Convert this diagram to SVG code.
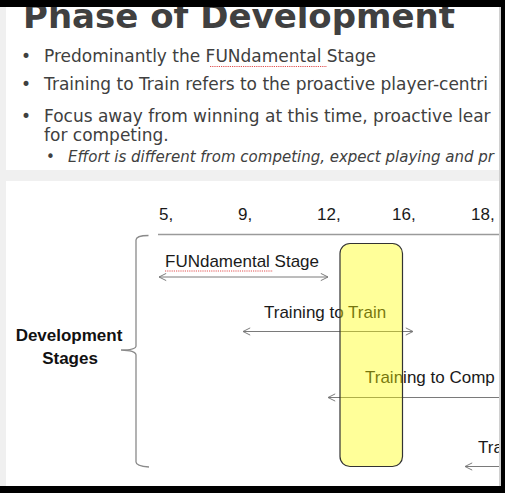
<svg xmlns="http://www.w3.org/2000/svg" width="505" height="493" viewBox="0 0 505 493">
<defs>
<style>
.bul{font-family:"DejaVu Sans",Verdana,sans-serif;font-size:17px;fill:#404040}
.sub{font-family:"DejaVu Sans",Verdana,sans-serif;font-size:15px;font-style:italic;fill:#404040}
.dg{font-family:"Liberation Sans",Arial,sans-serif;font-size:17px;fill:#1a1a1a}
.lbl{font-family:"Liberation Sans",Arial,sans-serif;font-size:17px;font-weight:bold;fill:#111;text-anchor:middle}
.arr{stroke:#7a7a7a;stroke-width:1;fill:none}
.sq{stroke:#e05050;stroke-width:1;fill:none;stroke-dasharray:1.2 1}
</style>
<marker id="hd" viewBox="0 0 10 10" refX="9" refY="5" markerWidth="9" markerHeight="9" markerUnits="userSpaceOnUse" orient="auto-start-reverse">
<path d="M1,1 L9,5 L1,9" fill="none" stroke="#7a7a7a" stroke-width="1.1"/>
</marker>
</defs>
<rect x="0" y="0" width="505" height="493" fill="#f0f0f0"/>
<rect x="6" y="7" width="493" height="163" fill="#ffffff"/>
<rect x="6" y="181" width="493" height="305" fill="#ffffff"/>

<g id="title">
<text x="23" y="28" font-family="DejaVu Sans,Verdana,sans-serif" font-size="34" font-weight="bold" fill="#404040">Phase of Development</text>
</g>
<g id="bullets">
<text x="21" y="62" class="bul">•</text>
<text x="44" y="62" class="bul">Predominantly the FUNdamental Stage</text>
<path class="sq" d="M210,66.5 L327,66.5"/>
<text x="21" y="90" class="bul">•</text>
<text x="44" y="90" class="bul">Training to Train refers to the proactive player-centri</text>
<text x="21" y="122" class="bul">•</text>
<text x="44" y="122" class="bul">Focus away from winning at this time, proactive lear</text>
<text x="44" y="140.5" class="bul">for competing.</text>
<text x="46" y="162" class="sub" font-style="normal">•</text>
<text x="68" y="162" class="sub">Effort is different from competing, expect playing and pr</text>
</g>

<g id="connectors">
<path d="M158,234.5 L505,234.5" stroke="#9a9a9a" stroke-width="1.5" fill="none"/>
<path d="M148.5,235.5 Q136,235.5 136,240 L136,346 Q136,350 121,350 Q136,350.5 136,355 L136,462 Q136,466 149,467" stroke="#8a8a8a" stroke-width="1.3" fill="none"/>
<line class="arr" x1="159" y1="277" x2="328" y2="277" marker-start="url(#hd)" marker-end="url(#hd)"/>
<line class="arr" x1="243" y1="331.5" x2="413" y2="331.5" marker-start="url(#hd)" marker-end="url(#hd)"/>
<line class="arr" x1="328" y1="397.5" x2="530" y2="397.5" marker-start="url(#hd)"/>
<line class="arr" x1="465" y1="466.5" x2="530" y2="466.5" marker-start="url(#hd)"/>
</g>

<g id="ages">
<text x="159" y="220" class="dg">5,</text>
<text x="238" y="220" class="dg">9,</text>
<text x="317" y="220" class="dg">12,</text>
<text x="392" y="220" class="dg">16,</text>
<text x="471" y="220" class="dg">18,</text>
</g>
<g id="stage-label">
<text x="69" y="341" class="lbl">Development</text>
<text x="70" y="364" class="lbl">Stages</text>
</g>
<g id="fundamental">
<text x="165" y="267" class="dg">FUNdamental Stage</text>
<path class="sq" d="M165,271 L273,271"/>
</g>
<g id="train-to-train">
<text x="264" y="318" class="dg">Training to Train</text>
</g>
<g id="train-to-compete">
<text x="365" y="383" class="dg">Training to Comp</text>
</g>
<g id="train-to-win">
<text x="478" y="453" class="dg">Tra</text>
</g>
<g id="highlight">
<rect x="340" y="243.5" width="62.5" height="223" rx="10" ry="10" fill="#ffff00" fill-opacity="0.4" stroke="#333333" stroke-width="1.2"/>
</g>

<rect x="499" y="0" width="2" height="493" fill="#d0d0d0"/>
<rect x="0" y="0" width="505" height="7" fill="#000"/>
<rect x="501" y="0" width="4" height="493" fill="#000"/>
<rect x="0" y="486" width="505" height="7" fill="#000"/>
</svg>
